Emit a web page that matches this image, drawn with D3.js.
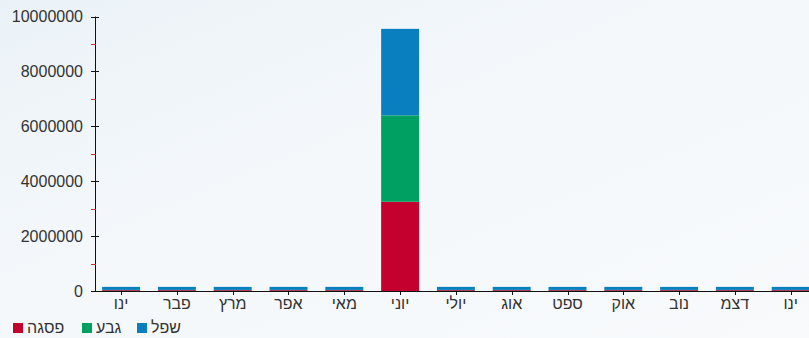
<!DOCTYPE html>
<html><head><meta charset="utf-8">
<script src="https://cdn.jsdelivr.net/npm/d3@7"></script>
<style>html,body{margin:0;padding:0;background:#f3f7fa;overflow:hidden}svg{display:block}</style>
</head><body><svg id="c" width="809" height="338"></svg>
<script>
const months = ["ינו","פבר","מרץ","אפר","מאי","יוני","יולי","אוג","ספט","אוק","נוב","דצמ","ינו"];
const seriesNames = ["פסגה","גבע","שפל"];
const peakValues = [30000,30000,30000,30000,30000,3250000,30000,30000,30000,30000,30000,30000,30000];
const midValues  = [10000,10000,10000,10000,10000,3150000,10000,10000,10000,10000,10000,10000,10000];
const lowValues  = [110000,110000,110000,110000,110000,3150000,110000,110000,110000,110000,110000,110000,110000];
const yTicks = [0,2000000,4000000,6000000,8000000,10000000];
const yMinorTicks = [1000000,3000000,5000000,7000000,9000000];
const colors = ["#c4002f","#00a062","#0a7fbf"];

const W = 809, H = 338;
const svg = d3.select("#c");
const font = "'Liberation Sans', Arial, sans-serif";

// background
const defs = svg.append("defs");
const g1 = defs.append("linearGradient").attr("id","bg").attr("x1","0").attr("y1","0").attr("x2","1").attr("y2","1");
g1.append("stop").attr("offset","0").attr("stop-color","#ebf2f7");
g1.append("stop").attr("offset","0.45").attr("stop-color","#f4f8fb");
g1.append("stop").attr("offset","1").attr("stop-color","#f8fafc");
svg.append("rect").attr("width",W).attr("height",H).attr("fill","url(#bg)");

const axisX = 95, y0 = 291, yTop = 16.5;
const y = d3.scaleLinear().domain([0,10000000]).range([y0,yTop]);
const x = d3.scaleBand().domain(d3.range(months.length)).range([93.2, 93.2 + 13*55.8]).paddingInner(0.32).paddingOuter(0.16);

const table = months.map((m,i)=>({i, peak:peakValues[i], mid:midValues[i], low:lowValues[i]}));
const stack = d3.stack().keys(["peak","mid","low"])(table);

// bars
svg.append("g").selectAll("g").data(stack).join("g")
  .attr("fill",(d,k)=>colors[k])
  .selectAll("rect").data(d=>d).join("rect")
  .attr("x",d=>x(d.data.i)).attr("width",x.bandwidth())
  .attr("y",d=>y(d[1])).attr("height",d=>y(d[0])-y(d[1]));

// x axis
svg.append("line").attr("x1",axisX).attr("x2",W).attr("y1",y0+0.5).attr("y2",y0+0.5).attr("stroke","#111").attr("stroke-width",1);
const xg = svg.append("g");
xg.selectAll("line").data(d3.range(months.length)).join("line")
  .attr("x1",i=>Math.round(x(i)+x.bandwidth()/2)+0.5).attr("x2",i=>Math.round(x(i)+x.bandwidth()/2)+0.5)
  .attr("y1",y0).attr("y2",y0+4).attr("stroke","#111");
xg.selectAll("text").data(months).join("text")
  .attr("x",(d,i)=>x(i)+x.bandwidth()/2).attr("y",309)
  .attr("text-anchor","middle").attr("font-family",font).attr("font-size",16).attr("fill","#333")
  .text(d=>d);

// y axis
svg.append("line").attr("x1",axisX+0.5).attr("x2",axisX+0.5).attr("y1",yTop).attr("y2",y0+1).attr("stroke","#111");
const yg = svg.append("g");
yg.selectAll("line.maj").data(yTicks).join("line").attr("class","maj")
  .attr("x1",91).attr("x2",99).attr("y1",d=>Math.round(y(d))+0.5).attr("y2",d=>Math.round(y(d))+0.5).attr("stroke","#111");
yg.selectAll("line.min").data(yMinorTicks).join("line").attr("class","min")
  .attr("x1",91).attr("x2",96).attr("y1",d=>Math.round(y(d))+0.5).attr("y2",d=>Math.round(y(d))+0.5).attr("stroke","#e8202a");
yg.selectAll("text").data(yTicks).join("text")
  .attr("x",83).attr("y",d=>y(d)).attr("dy","0.36em")
  .attr("text-anchor","end").attr("font-family",font).attr("font-size",16).attr("fill","#333")
  .text(d=>d3.format("d")(d));

// legend
const legendX = [13, 82, 137];
const lg = svg.append("g").selectAll("g").data(seriesNames).join("g")
  .attr("transform",(d,i)=>`translate(${legendX[i]},323)`);
lg.append("rect").attr("width",10).attr("height",10).attr("fill",(d,i)=>colors[i]);
lg.append("text").attr("x",14).attr("y",9.5).attr("font-family",font).attr("font-size",16).attr("fill","#333")
  .attr("text-anchor","start").text(d=>d);
</script></body></html>
